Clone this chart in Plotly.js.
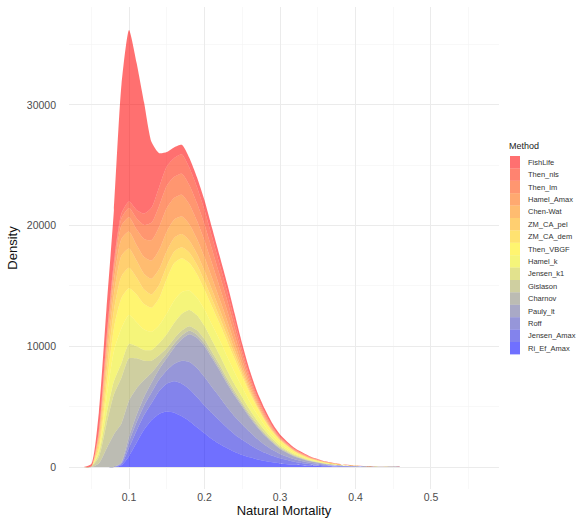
<!DOCTYPE html>
<html>
<head>
<meta charset="utf-8">
<script src="https://cdn.plot.ly/plotly-3.0.1.min.js"></script>
<style>
  html, body { margin: 0; padding: 0; background: #ffffff; }
  #chart { width: 581px; height: 520px; }
</style>
</head>
<body>
<div id="chart"></div>
<script>
// Natural mortality grid on which each method's density was evaluated
const mortality = [0.04, 0.05, 0.06, 0.07, 0.08, 0.09, 0.10, 0.11, 0.12, 0.13, 0.14, 0.15,
  0.16, 0.17, 0.18, 0.19, 0.20, 0.21, 0.22, 0.23, 0.24, 0.25, 0.26, 0.27, 0.28, 0.29, 0.30,
  0.32, 0.34, 0.36, 0.38, 0.40, 0.43, 0.46, 0.50, 0.56];

// Density of each estimation method (stack order: first method on top)
const fishLife   = [0, 200, 1500, 2500, 4300, 10700, 14200, 12200, 9200, 5400, 2800, 1200, 900, 800, 800, 800, 800, 750, 700, 650, 600, 520, 450, 380, 300, 240, 190, 110, 60, 30, 15, 8, 2, 0, 0, 0];
const thenNls    = [0, 0, 100, 200, 300, 400, 550, 700, 950, 1250, 1550, 1600, 1550, 1600, 1450, 1330, 1200, 1030, 880, 740, 570, 390, 255, 165, 125, 80, 56, 33, 23, 14, 8, 4, 1, 0, 0, 0];
const thenLm     = [0, 0, 100, 300, 400, 600, 750, 900, 1150, 1450, 1750, 1850, 1750, 1750, 1600, 1470, 1350, 1170, 1000, 840, 640, 440, 290, 185, 140, 90, 62, 38, 26, 16, 9, 5, 1, 0, 0, 0];
const hamelAmax  = [0, 0, 200, 600, 850, 1100, 1200, 1300, 1500, 1700, 1900, 1950, 1800, 1800, 1650, 1500, 1370, 1190, 1010, 850, 650, 450, 300, 190, 145, 95, 65, 40, 27, 17, 10, 5, 1, 0, 0, 0];
const chenWat    = [0, 0, 300, 800, 1150, 1400, 1400, 1300, 1400, 1500, 1600, 1600, 1500, 1450, 1350, 1230, 1130, 990, 840, 710, 540, 370, 245, 155, 120, 80, 52, 32, 22, 14, 8, 4, 1, 0, 0, 0];
const zmCaPel    = [0, 0, 400, 1000, 1350, 1700, 1600, 1400, 1300, 1300, 1300, 1250, 1150, 1100, 1000, 920, 850, 750, 640, 540, 410, 280, 190, 120, 90, 60, 40, 25, 17, 10, 6, 3, 1, 0, 0, 0];
const zmCaDem    = [0, 0, 400, 1100, 1450, 1800, 1700, 1400, 1200, 1100, 1100, 1050, 950, 900, 850, 780, 720, 640, 550, 470, 360, 250, 170, 105, 80, 55, 35, 22, 15, 9, 5, 3, 1, 0, 0, 0];
const thenVbgf   = [0, 0, 150, 900, 1900, 2500, 2200, 2300, 2100, 2000, 2250, 2900, 3100, 2800, 2290, 1950, 1650, 1500, 1350, 1250, 1100, 900, 705, 560, 400, 290, 225, 125, 68, 38, 19, 9, 2, 0, 0, 0];
const hamelK     = [0, 0, 250, 1300, 2500, 2900, 2400, 2000, 1700, 1500, 1500, 1700, 1850, 1800, 1600, 1450, 1350, 1300, 1250, 1150, 1000, 820, 650, 510, 370, 265, 205, 115, 62, 34, 17, 8, 2, 0, 0, 0];
const jensenK1   = [0, 0, 300, 800, 1100, 1200, 1200, 1000, 900, 900, 1000, 1150, 1300, 1400, 1350, 1250, 1100, 950, 800, 670, 550, 450, 360, 290, 230, 180, 140, 80, 45, 24, 12, 6, 1, 0, 0, 0];
const gislason   = [0, 50, 500, 2000, 3300, 3800, 3500, 2500, 1600, 1000, 650, 470, 420, 400, 380, 360, 340, 310, 280, 250, 220, 190, 165, 140, 115, 95, 75, 45, 25, 14, 7, 3, 1, 0, 0, 0];
const charnov    = [0, 0, 300, 1500, 2700, 3200, 3000, 2200, 1400, 800, 500, 380, 330, 300, 280, 260, 240, 220, 200, 180, 160, 140, 120, 100, 85, 70, 55, 35, 20, 10, 5, 2, 1, 0, 0, 0];
const paulyLt    = [0, 0, 0, 0, 0, 60, 400, 600, 700, 800, 850, 1000, 1350, 1800, 2300, 2500, 2550, 2400, 2200, 1950, 1720, 1480, 1210, 980, 770, 580, 420, 230, 125, 65, 32, 16, 5, 1, 0, 0];
const roff       = [0, 0, 0, 0, 0, 90, 500, 700, 800, 900, 950, 1100, 1450, 1900, 2250, 2400, 2350, 2150, 1950, 1700, 1480, 1270, 1040, 840, 650, 490, 360, 200, 110, 55, 28, 14, 5, 1, 0, 0];
const jensenAmax = [0, 0, 0, 0, 0, 100, 700, 1000, 1200, 1400, 1900, 2300, 2600, 2700, 2650, 2500, 2300, 2150, 1950, 1700, 1450, 1250, 1050, 850, 680, 540, 420, 240, 135, 75, 40, 20, 7, 1, 0, 0];
const riEfAmax   = [0, 0, 0, 0, 0, 150, 900, 2000, 3100, 3900, 4400, 4600, 4500, 4200, 3800, 3300, 2800, 2300, 1900, 1550, 1250, 1000, 800, 630, 500, 390, 300, 180, 100, 55, 30, 15, 5, 1, 0, 0];

// Method names in legend order
const methods = ["FishLife", "Then_nls", "Then_lm", "Hamel_Amax", "Chen-Wat", "ZM_CA_pel",
  "ZM_CA_dem", "Then_VBGF", "Hamel_k", "Jensen_k1", "Gislason", "Charnov", "Pauly_lt",
  "Roff", "Jensen_Amax", "Ri_Ef_Amax"];
const densities = [fishLife, thenNls, thenLm, hamelAmax, chenWat, zmCaPel, zmCaDem, thenVbgf,
  hamelK, jensenK1, gislason, charnov, paulyLt, roff, jensenAmax, riEfAmax];

// Red -> yellow -> blue ramp, one colour per method
const palette = [[255,0,0],[255,34,0],[255,68,0],[255,102,0],[255,136,0],[255,170,0],
  [255,204,0],[255,238,0],[238,238,17],[204,204,51],[170,170,85],[136,136,119],
  [102,102,153],[68,68,187],[34,34,221],[0,0,255]];
const fillAlpha = 0.56;
const rgba = c => `rgba(${c[0]},${c[1]},${c[2]},${fillAlpha})`;

// Stack from the bottom up: last method sits on the baseline
const traces = [];
for (let k = methods.length - 1; k >= 0; k--) {
  traces.push({
    type: "scatter",
    mode: "lines",
    name: methods[k],
    x: mortality,
    y: densities[k],
    stackgroup: "dens",
    line: { width: 0, shape: "spline", smoothing: 0.6, color: rgba(palette[k]) },
    fillcolor: rgba(palette[k]),
    showlegend: false,
    hoverinfo: "x+y+name"
  });
}

// Plot frame in pixels
const fig = { w: 581, h: 520, l: 69, r: 82, t: 7, b: 31 };
const plotW = fig.w - fig.l - fig.r;
const plotH = fig.h - fig.t - fig.b;
const px2x = px => (px - fig.l) / plotW;
const py2y = py => (fig.h - fig.b - py) / plotH;

const font = "Liberation Sans, Arial, Helvetica, sans-serif";

// Legend drawn as a compact column of colour keys with labels
const shapes = [];
const annotations = [];
const keyLeft = 510, keyRight = 520, keyTop = 156, keyStep = 12.4, labelLeft = 526;
annotations.push({
  xref: "paper", yref: "paper", x: px2x(507), y: py2y(146),
  xanchor: "left", yanchor: "middle", showarrow: false,
  text: "Method", font: { family: font, size: 9, color: "#222" }
});
methods.forEach((m, k) => {
  const y0 = keyTop + k * keyStep;
  shapes.push({
    type: "rect", xref: "paper", yref: "paper",
    x0: px2x(keyLeft), x1: px2x(keyRight), y0: py2y(y0), y1: py2y(y0 + keyStep),
    fillcolor: rgba(palette[k]), line: { width: 0 }, layer: "above"
  });
  annotations.push({
    xref: "paper", yref: "paper", x: px2x(labelLeft), y: py2y(y0 + keyStep / 2),
    xanchor: "left", yanchor: "middle", showarrow: false,
    text: m, font: { family: font, size: 7.5, color: "#333" }
  });
});

const layout = {
  width: fig.w, height: fig.h,
  margin: { l: fig.l, r: fig.r, t: fig.t, b: fig.b, pad: 0 },
  paper_bgcolor: "#ffffff",
  plot_bgcolor: "#ffffff",
  font: { family: font, color: "#4d4d4d" },
  showlegend: false,
  xaxis: {
    range: [0.0205, 0.5901],
    tickvals: [0.1, 0.2, 0.3, 0.4, 0.5],
    ticktext: ["0.1", "0.2", "0.3", "0.4", "0.5"],
    showgrid: true, gridcolor: "#ebebeb", gridwidth: 1,
    minor: { tickvals: [0.05, 0.15, 0.25, 0.35, 0.45, 0.55], showgrid: true, gridcolor: "#f3f3f3", gridwidth: 0.6 },
    zeroline: false, showline: false, ticks: "",
    tickfont: { family: font, size: 10.5, color: "#4d4d4d" },
    title: { text: "Natural Mortality", font: { family: font, size: 13, color: "#111" }, standoff: 4 }
  },
  yaxis: {
    range: [-1823, 38111],
    tickvals: [0, 10000, 20000, 30000],
    ticktext: ["0", "10000", "20000", "30000"],
    showgrid: true, gridcolor: "#ebebeb", gridwidth: 1,
    minor: { tickvals: [5000, 15000, 25000, 35000], showgrid: true, gridcolor: "#f3f3f3", gridwidth: 0.6 },
    zeroline: false, showline: false, ticks: "",
    ticklabelstandoff: 12,
    tickfont: { family: font, size: 10.5, color: "#4d4d4d" },
    title: { text: "Density", font: { family: font, size: 13, color: "#111" }, standoff: 6 }
  },
  shapes: shapes,
  annotations: annotations
};

Plotly.newPlot("chart", traces, layout, { displayModeBar: false, staticPlot: true });
</script>
</body>
</html>
